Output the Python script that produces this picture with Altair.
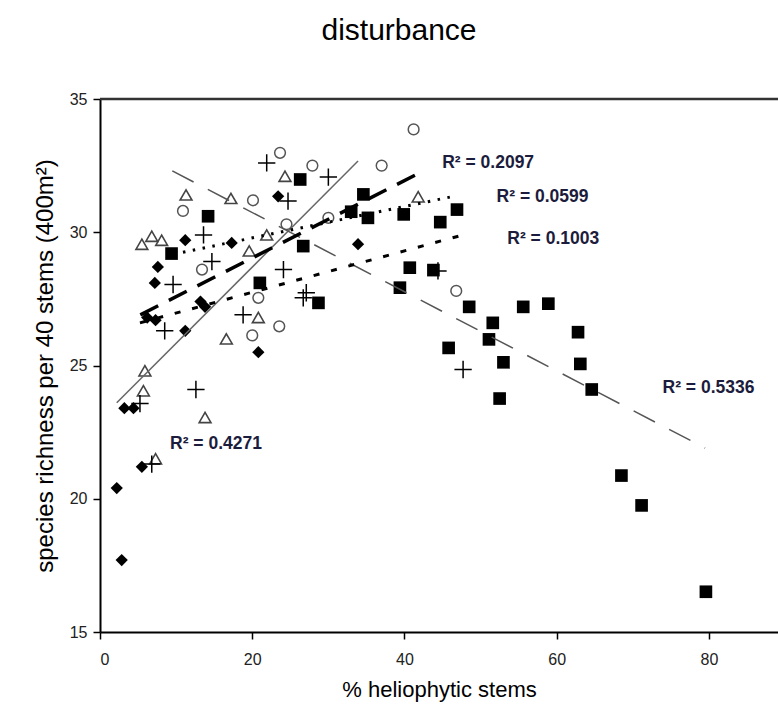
import altair as alt
import pandas as pd

# ---------------- data ----------------
diamond_x = [2.2, 2.85, 3.2, 4.4, 5.5, 6.2, 7.3, 7.2, 7.6, 11.2, 11.2, 13.2, 13.8, 17.3, 20.8, 23.4, 33.9]
diamond_y = [20.4, 17.7, 23.4, 23.4, 21.2, 26.8, 26.7, 28.1, 28.7, 29.7, 26.3, 27.4, 27.2, 29.6, 25.5, 31.35, 29.55]

triangle_x = [5.5, 6.8, 8.1, 11.3, 17.2, 19.6, 21.9, 24.3, 20.8, 16.6, 5.9, 5.7, 13.8, 7.3, 41.8]
triangle_y = [29.55, 29.85, 29.7, 31.4, 31.27, 29.3, 29.9, 32.1, 26.8, 26.0, 24.8, 24.05, 23.05, 21.5, 31.33]

circle_x = [10.9, 20.1, 23.65, 27.9, 37.0, 41.2, 24.5, 30.0, 20.8, 23.55, 20.0, 13.4, 46.8]
circle_y = [30.8, 31.2, 32.98, 32.5, 32.5, 33.86, 30.3, 30.54, 27.54, 26.47, 26.13, 28.6, 27.8]

plus_x = [21.9, 30.0, 24.7, 13.6, 14.7, 9.6, 8.5, 18.8, 24.1, 26.7, 27.1, 5.25, 12.6, 6.8, 44.4, 47.7]
plus_y = [32.6, 32.07, 31.17, 29.9, 28.9, 28.04, 26.3, 26.9, 28.6, 27.54, 27.73, 23.57, 24.1, 21.3, 28.55, 24.85]

square_x = [9.4, 14.2, 21.0, 26.3, 26.7, 28.7, 33.0, 34.6, 35.2, 39.9, 44.7, 46.9, 40.7, 43.8, 39.4,
            48.5, 55.6, 58.9, 51.6, 51.1, 45.8, 53.0, 62.8, 63.1, 64.6, 52.5, 68.5, 71.15, 79.6]
square_y = [29.2, 30.6, 28.1, 31.98, 29.48, 27.35, 30.77, 31.42, 30.54, 30.67, 30.38, 30.85, 28.67, 28.58, 27.92,
            27.2, 27.2, 27.32, 26.6, 25.98, 25.66, 25.12, 26.25, 25.06, 24.1, 23.76, 20.87, 19.75, 16.51]

# trend-line end points (x0, x1), (y0, y1)
line_diamond_x, line_diamond_y = [2.2, 33.9], [23.6, 32.67]
line_square_x, line_square_y = [9.5, 79.5], [32.3, 21.9]
line_triangle_x, line_triangle_y = [5.3, 41.8], [26.9, 32.2]
line_circle_x, line_circle_y = [10.9, 46.5], [29.25, 31.35]
line_plus_x, line_plus_y = [5.25, 47.7], [26.6, 29.9]

r2_text = ["R² = 0.4271", "R² = 0.2097", "R² = 0.0599", "R² = 0.1003", "R² = 0.5336"]
r2_x = [9.2, 44.95, 52.1, 53.5, 73.9]
r2_y = [22.04, 32.61, 31.33, 29.75, 24.16]

x_ticks = [0, 20, 40, 60, 80]
y_ticks = [15, 20, 25, 30, 35]

# ---------------- chart ----------------
FONT = "Liberation Sans"
X_MAX = 89.07

xs = alt.Scale(domain=[0, X_MAX], nice=False, zero=False)
ys = alt.Scale(domain=[15, 35], nice=False, zero=False)

X = alt.X("x:Q", scale=xs, axis=alt.Axis(values=x_ticks, title="% heliophytic stems"))
Y = alt.Y("y:Q", scale=ys, axis=alt.Axis(values=y_ticks, title="species richness per 40 stems (400m²)"))


def frame(xv, yv):
    return pd.DataFrame({"x": xv, "y": yv})


def points(xv, yv, **kw):
    return alt.Chart(frame(xv, yv)).mark_point(opacity=1, **kw).encode(x=X, y=Y)


def trend(xv, yv, **kw):
    return alt.Chart(frame(xv, yv)).mark_line(**kw).encode(x=X, y=Y)


top_border = alt.Chart(frame([0], [35])).mark_rule(color="#333", strokeWidth=2.5).encode(y=Y)

layers = [
    points(square_x, square_y, shape="square", filled=True, color="black", size=160),
    points(diamond_x, diamond_y, shape="diamond", filled=True, color="black", size=150),
    points(triangle_x, triangle_y, shape="triangle-up", filled=False, stroke="#444", strokeWidth=1.6, size=140),
    points(circle_x, circle_y, shape="circle", filled=False, stroke="#555", strokeWidth=1.5, size=115),
    points(plus_x, plus_y, shape="M-1,0H1M0,-1V1", filled=False, stroke="black", strokeWidth=1.5, size=300),
    trend(line_diamond_x, line_diamond_y, color="#666", strokeWidth=1.5),
    trend(line_square_x, line_square_y, color="#555", strokeWidth=1.5, strokeDash=[24, 16]),
    trend(line_triangle_x, line_triangle_y, color="black", strokeWidth=3.5, strokeDash=[20, 12]),
    trend(line_circle_x, line_circle_y, color="black", strokeWidth=3, strokeDash=[2.5, 7.5]),
    trend(line_plus_x, line_plus_y, color="black", strokeWidth=3, strokeDash=[6, 12]),
    alt.Chart(pd.DataFrame({"x": r2_x, "y": r2_y, "t": r2_text})).mark_text(
        align="left", baseline="middle", font=FONT, fontSize=17.5, fontWeight="bold", color="#1c1c3c"
    ).encode(x=X, y=Y, text="t:N"),
    top_border,
]

chart = alt.layer(*layers).properties(
    width=678,
    height=533,
    padding={"left": 100, "top": 99, "right": 0, "bottom": 78},
    autosize=alt.AutoSizeParams(type="none"),
    title=alt.TitleParams("disturbance", font=FONT, fontSize=30, fontWeight="normal", color="black",
                          anchor="middle", offset=45, dx=-40),
).configure_view(stroke=None).configure_axis(
    grid=False,
    domainColor="black",
    domainWidth=2,
    tickColor="black",
    tickSize=7,
    tickWidth=1.5,
    labelFont=FONT,
    labelFontSize=16,
    labelColor="#222",
    titleFont=FONT,
    titleFontSize=21,
    titleFontWeight="normal",
    titleColor="black",
).configure_axisX(labelPadding=12, titlePadding=12, titleFontSize=22).configure_axisY(
    labelPadding=6, titlePadding=12, titleFontSize=24
)

chart.save("out.html", embed_options={"renderer": "svg", "actions": False})
